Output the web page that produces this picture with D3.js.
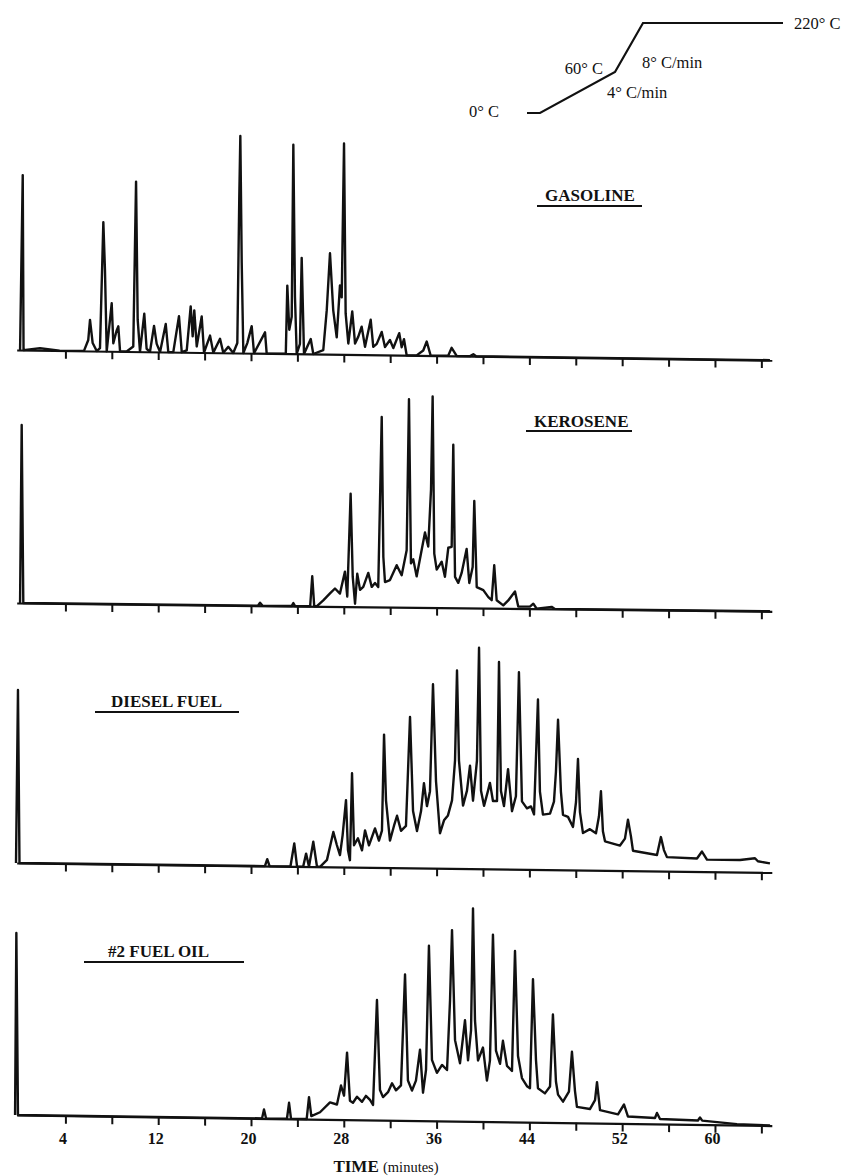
<!DOCTYPE html>
<html><head><meta charset="utf-8">
<script src="https://cdn.jsdelivr.net/npm/d3@7"></script>
<style>html,body{margin:0;padding:0;background:#fff;} svg{display:block;}</style>
</head><body>
<script>
// ---------------- DATA ----------------
// retention time (minutes) vs detector response (arbitrary units)
const gasoline = [[0.09,0],[0.32,175],[0.39,0],[1.81,2],[3.5,0],[5.6,0],[5.97,11],[6.12,31],[6.35,8],[6.7,0],[6.98,3],[7.27,129],[7.41,81],[7.56,0],[7.99,48],[8.13,8],[8.42,21],[8.56,25],[8.71,0],[9.28,0],[9.85,5],[10.09,170],[10.23,32],[10.43,0],[10.8,38],[11.0,3],[11.29,0],[11.64,26],[11.87,8],[12.16,0],[12.65,28],[12.87,0],[13.3,0],[13.79,36],[14.03,0],[14.46,2],[14.8,46],[14.97,16],[15.11,42],[15.32,6],[15.75,36],[15.95,0],[16.47,17],[16.75,0],[17.33,14],[17.61,0],[18.04,6],[18.47,0],[18.82,10],[18.99,156],[19.08,217],[19.2,90],[19.34,0],[19.68,10],[20.06,27],[20.26,0],[21.21,21],[21.35,0],[23.0,0],[23.13,68],[23.3,24],[23.51,37],[23.65,209],[23.79,57],[23.94,0],[24.22,10],[24.37,96],[24.57,0],[25.15,15],[25.37,0],[26.23,4],[26.53,44],[26.81,101],[27.09,44],[27.39,17],[27.67,69],[27.82,57],[28.02,211],[28.16,41],[28.39,11],[28.73,43],[28.97,11],[29.25,18],[29.54,28],[29.83,8],[30.32,35],[30.54,8],[30.84,11],[31.27,23],[31.55,8],[31.98,15],[32.27,7],[32.78,22],[32.99,8],[33.19,16],[33.42,0],[34.28,0],[34.85,5],[35.15,14],[35.49,0],[37.0,0],[37.3,8],[37.73,0],[38.9,0],[39.17,2],[39.4,0],[64.74,0]];

const kerosene = [[0.09,0],[0.23,178],[0.37,0],[20.6,0],[20.78,3],[21.0,0],[23.5,0],[23.65,3],[23.8,0],[25.1,0],[25.28,30],[25.45,0],[25.66,0],[26.23,6],[26.81,13],[27.24,18],[27.67,13],[28.1,35],[28.3,10],[28.59,113],[28.77,30],[28.97,3],[29.16,33],[29.4,17],[29.68,20],[30.11,34],[30.41,20],[30.69,24],[30.97,20],[31.27,190],[31.41,50],[31.55,25],[31.98,27],[32.56,42],[32.99,32],[33.42,57],[33.62,208],[33.79,44],[33.99,48],[34.28,31],[34.72,58],[35.0,75],[35.28,61],[35.52,118],[35.66,211],[35.8,54],[36.01,38],[36.44,46],[36.72,31],[37.01,60],[37.3,61],[37.44,163],[37.59,31],[37.87,25],[38.16,35],[38.59,59],[38.82,25],[39.11,41],[39.25,107],[39.46,21],[40.03,18],[40.46,11],[40.75,8],[40.97,43],[41.18,8],[41.75,3],[42.18,8],[42.76,17],[43.04,2],[44.05,2],[44.34,5],[44.63,0],[45.92,2],[46.2,0],[64.74,0]];

const diesel = [[-0.26,0],[-0.09,173],[0.04,0],[21.2,0],[21.4,7],[21.6,0],[23.4,0],[23.73,23],[23.97,0],[24.5,0],[24.75,13],[25.0,0],[25.37,25],[25.69,0],[25.95,0],[26.55,7],[27.1,35],[27.4,22],[27.67,12],[27.9,32],[28.19,67],[28.36,17],[28.53,7],[28.71,94],[28.88,22],[29.22,29],[29.57,17],[29.83,37],[30.17,22],[30.69,39],[31.03,27],[31.29,37],[31.47,133],[31.64,67],[31.98,27],[32.33,42],[32.59,52],[32.93,37],[33.36,42],[33.71,151],[33.97,57],[34.31,37],[34.66,57],[34.91,85],[35.17,62],[35.43,77],[35.69,184],[35.95,87],[36.29,35],[36.64,48],[36.98,53],[37.33,68],[37.59,108],[37.76,198],[37.93,108],[38.28,63],[38.62,78],[38.88,103],[39.14,68],[39.48,108],[39.66,221],[39.83,78],[40.09,63],[40.43,78],[40.6,86],[40.86,68],[41.21,68],[41.38,207],[41.55,78],[41.81,63],[42.16,100],[42.5,58],[42.84,73],[43.1,197],[43.36,68],[43.79,61],[44.14,63],[44.4,55],[44.74,170],[44.91,78],[45.17,55],[45.78,56],[46.12,68],[46.29,98],[46.47,150],[46.72,78],[46.9,55],[47.33,53],[47.76,43],[48.02,68],[48.19,111],[48.36,58],[48.62,37],[49.22,41],[49.74,37],[50.0,54],[50.17,79],[50.34,39],[50.52,29],[51.81,25],[52.24,32],[52.5,51],[52.76,34],[52.93,20],[55.0,16],[55.34,34],[55.6,21],[55.86,14],[58.45,13],[58.88,20],[59.31,12],[62.16,12],[63.45,14],[63.7,11],[64.74,9]];

const fuelOil = [[-0.34,0],[-0.23,182],[-0.09,0],[20.95,0],[21.12,9],[21.3,0],[23.1,0],[23.28,16],[23.45,0],[24.8,0],[25.0,22],[25.2,3],[25.95,7],[26.81,17],[27.41,15],[27.76,34],[28.02,24],[28.28,67],[28.53,19],[28.79,17],[29.14,23],[29.57,18],[29.91,24],[30.26,20],[30.52,15],[30.86,120],[31.12,30],[31.38,23],[31.81,28],[32.16,37],[32.5,30],[32.93,35],[33.28,146],[33.53,40],[33.88,30],[34.22,40],[34.57,71],[34.83,28],[35.09,51],[35.34,175],[35.6,61],[36.03,48],[36.47,56],[36.9,51],[37.16,121],[37.33,191],[37.59,81],[38.02,58],[38.45,101],[38.71,61],[38.97,91],[39.14,213],[39.31,101],[39.57,61],[40.0,74],[40.34,41],[40.6,61],[40.86,187],[41.12,71],[41.47,58],[41.72,81],[42.07,56],[42.5,51],[42.76,171],[43.02,66],[43.36,44],[43.79,36],[44.05,34],[44.31,143],[44.57,62],[44.74,34],[45.34,29],[45.78,36],[46.03,108],[46.29,41],[46.47,28],[46.9,21],[47.41,31],[47.67,71],[47.93,32],[48.1,16],[49.22,14],[49.66,23],[49.83,41],[50.09,13],[51.64,9],[52.16,19],[52.5,7],[54.83,6],[55.0,11],[55.26,5],[58.53,4],[58.71,7],[58.9,4],[61.9,1],[64.74,0]];

const sampleNames = ["GASOLINE", "KEROSENE", "DIESEL FUEL", "#2 FUEL OIL"];
const tickMinutes = [4,8,12,16,20,24,28,32,36,40,44,48,52,56,60,64];
const labelMinutes = [4,12,20,28,36,44,52,60];
const xTitle = ["TIME", "(minutes)"];

// oven temperature programme (schematic)
const programMinutes = [0, 2, 17, 37, 60];
const programTemps  = [0, 0, 60, 220, 220];
const programLabels = ["0° C", "60° C", "220° C"];
const programRates  = ["4° C/min", "8° C/min"];

// ---------------- DRAWING ----------------
const W = 851, H = 1176, ink = "#111";
const serif = "'Liberation Serif','Times New Roman',serif";
const svg = d3.select("body").append("svg").attr("width", W).attr("height", H)
  .style("background", "#fff");

const x = d3.scaleLinear().domain([-0.2, 64.9]).range([16.7, 771.8]);

// layout for each panel (baseline y, scan tilt, label box)
const panels = [
  {data: gasoline, y0: 350, tilt: 0.0135, lx: 545, ly: 201, u: [537, 642, 206]},
  {data: kerosene, y0: 603, tilt: 0.011,  lx: 534, ly: 427, u: [526, 632, 431]},
  {data: diesel,   y0: 863, tilt: 0.0125, lx: 111, ly: 707, u: [95, 239, 712]},
  {data: fuelOil,  y0: 1115, tilt: 0.014, lx: 108, ly: 957, u: [84, 244, 962]}
];

const line = d3.line();

panels.forEach((p, i) => {
  const y = d3.scaleLinear().domain([0, 250]).range([p.y0, p.y0 - 250]);
  const g = svg.append("g")
    .attr("transform", `matrix(1,${p.tilt},0,1,0,${-p.tilt * 17})`);

  const ax = g.append("g").attr("transform", `translate(0,${p.y0})`)
    .call(d3.axisBottom(x).tickValues(tickMinutes).tickSize(8).tickSizeOuter(0).tickFormat(""));
  ax.select(".domain").attr("stroke", ink).attr("stroke-width", 2.2);
  ax.selectAll(".tick line").attr("stroke", ink).attr("stroke-width", 2);

  g.append("path").datum(p.data)
    .attr("d", line.x(d => x(d[0])).y(d => y(d[1])))
    .attr("fill", "none").attr("stroke", ink).attr("stroke-width", 2.4)
    .attr("stroke-linejoin", "round");

  svg.append("text").attr("x", p.lx).attr("y", p.ly)
    .attr("font-family", serif).attr("font-weight", "bold").attr("font-size", 17)
    .attr("fill", ink).text(sampleNames[i]);
  svg.append("line").attr("x1", p.u[0]).attr("x2", p.u[1]).attr("y1", p.u[2]).attr("y2", p.u[2])
    .attr("stroke", ink).attr("stroke-width", 2.2);
});

// bottom time labels
const lab = svg.append("g").attr("transform", "translate(-3,1133)")
  .call(d3.axisBottom(x).tickValues(labelMinutes).tickSize(0).tickPadding(0));
lab.select(".domain").remove();
lab.selectAll("text").attr("font-family", serif).attr("font-weight", "bold")
  .attr("font-size", 16).attr("fill", ink);

const title = svg.append("text").attr("x", 386).attr("y", 1172).attr("text-anchor", "middle")
  .attr("font-family", serif).attr("fill", ink);
title.append("tspan").attr("font-weight", "bold").attr("font-size", 17).text(xTitle[0] + " ");
title.append("tspan").attr("font-size", 14.5).text(xTitle[1]);

// temperature programme inset
const px = d3.scaleLinear().domain(programMinutes).range([527, 540, 615, 643, 783]);
const py = d3.scaleLinear().domain([0, 60, 220]).range([113, 72, 23]);
svg.append("path").datum(programMinutes.map((m, i) => [m, programTemps[i]]))
  .attr("d", d3.line().x(d => px(d[0])).y(d => py(d[1])))
  .attr("fill", "none").attr("stroke", ink).attr("stroke-width", 2.2);

const tfont = (sel) => sel.attr("font-family", serif).attr("font-size", 16.5).attr("fill", ink);
tfont(svg.append("text").attr("x", px(0) - 28).attr("y", py(0) + 4).attr("text-anchor", "end").text(programLabels[0]));
tfont(svg.append("text").attr("x", px(17) - 12).attr("y", py(60) + 2).attr("text-anchor", "end").text(programLabels[1]));
tfont(svg.append("text").attr("x", px(60) + 11).attr("y", py(220) + 6).text(programLabels[2]));
tfont(svg.append("text").attr("x", px(17) - 8).attr("y", py(60) + 26).text(programRates[0]));
tfont(svg.append("text").attr("x", px(37) - 1).attr("y", py(60) - 4).text(programRates[1]));
</script>
</body></html>
